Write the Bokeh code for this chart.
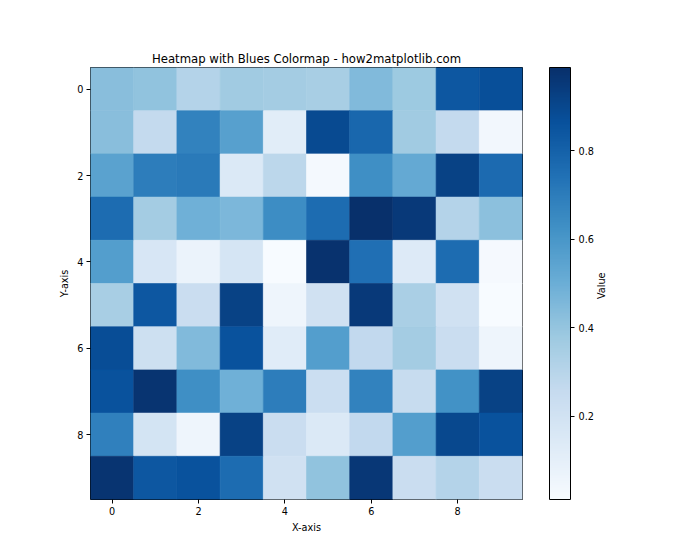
import numpy as np
from bokeh.plotting import figure
from bokeh.layouts import row
from bokeh.models import (ColumnDataSource, LinearColorMapper, ColorBar, FixedTicker,
                          Range1d, Label)
from bokeh.transform import transform
from bokeh.embed import file_html
from bokeh.resources import INLINE

# ---- data ----
x_ticks = [0, 2, 4, 6, 8]
y_ticks = [0, 2, 4, 6, 8]
cbar_ticks = [0.2, 0.4, 0.6, 0.8]
values = [
    [0.43, 0.41, 0.31, 0.37, 0.36, 0.35, 0.45, 0.38, 0.84, 0.87],
    [0.43, 0.26, 0.68, 0.56, 0.12, 0.89, 0.78, 0.37, 0.26, 0.04],
    [0.55, 0.70, 0.71, 0.15, 0.29, 0.03, 0.63, 0.52, 0.92, 0.77],
    [0.76, 0.36, 0.49, 0.46, 0.64, 0.76, 0.988, 0.95, 0.31, 0.42],
    [0.57, 0.17, 0.07, 0.18, 0.012, 0.98, 0.75, 0.14, 0.76, 0.025],
    [0.35, 0.84, 0.24, 0.92, 0.06, 0.21, 0.95, 0.34, 0.21, 0.015],
    [0.88, 0.22, 0.45, 0.86, 0.125, 0.57, 0.27, 0.36, 0.24, 0.06],
    [0.86, 0.97, 0.63, 0.49, 0.70, 0.23, 0.68, 0.25, 0.62, 0.92],
    [0.69, 0.19, 0.06, 0.92, 0.24, 0.15, 0.27, 0.57, 0.90, 0.86],
    [0.97, 0.84, 0.86, 0.76, 0.21, 0.41, 0.96, 0.24, 0.31, 0.24],
]

# ---- Blues colormap (matplotlib anchors) ----
anchors = ["#f7fbff", "#deebf7", "#c6dbef", "#9ecae1", "#6baed6",
           "#4292c6", "#2171b5", "#08519c", "#08306b"]
rgb = np.array([[int(c[i:i + 2], 16) for i in (1, 3, 5)] for c in anchors], float)
pos = np.linspace(0, 1, len(anchors))
tt = np.linspace(0, 1, 256)
palette = ["#%02x%02x%02x" % tuple(int(round(np.interp(t, pos, rgb[:, k]))) for k in range(3))
           for t in tt]

arr = np.array(values)
nrows, ncols = arr.shape
xs, ys, vs = [], [], []
for r in range(nrows):
    for c in range(ncols):
        xs.append(c)
        ys.append(r)
        vs.append(values[r][c])
src = ColumnDataSource(dict(x=xs, y=ys, v=vs))
mapper = LinearColorMapper(palette=palette, low=float(arr.min()), high=float(arr.max()))

FONT = "DejaVu Sans"
p = figure(frame_width=432, frame_height=432,
           min_border_left=90, min_border_right=73, min_border_top=67, min_border_bottom=61,
           x_range=Range1d(-0.5, ncols - 0.5), y_range=Range1d(nrows - 0.5, -0.5),
           output_backend="svg", toolbar_location=None, tools="")
p.rect(x="x", y="y", width=1, height=1, source=src,
       fill_color=transform("v", mapper), line_color=transform("v", mapper), line_width=0.6)

p.title.text = "Heatmap with Blues Colormap - how2matplotlib.com"
p.title.align = "center"
p.title.text_font = FONT
p.title.text_font_size = "11.7px"
p.title.text_font_style = "normal"
p.title.text_color = "black"
p.title.standoff = 4

p.xgrid.visible = False
p.ygrid.visible = False
p.outline_line_color = "black"
p.outline_line_width = 1

for ax, ticks, lab in ((p.xaxis[0], x_ticks, "X-axis"), (p.yaxis[0], y_ticks, "Y-axis")):
    ax.ticker = FixedTicker(ticks=ticks)
    ax.axis_label = lab
    ax.axis_label_text_font = FONT
    ax.axis_label_text_font_size = "9.7px"
    ax.axis_label_text_font_style = "normal"
    ax.axis_label_text_color = "black"
    ax.major_label_text_font = FONT
    ax.major_label_text_font_size = "9.7px"
    ax.major_label_text_color = "black"
    ax.major_tick_in = 0
    ax.major_tick_out = 4
    ax.major_tick_line_color = "black"
    ax.minor_tick_line_color = None
    ax.axis_line_color = None
    ax.major_label_standoff = 3
    ax.axis_label_standoff = 4

cb = ColorBar(color_mapper=mapper, ticker=FixedTicker(ticks=cbar_ticks),
              width=21, height=432, padding=0, margin=0, location=(27, 0),
              bar_line_color="black", bar_line_width=1,
              major_tick_in=0, major_tick_out=4, major_tick_line_color="black",
              minor_tick_line_color=None, label_standoff=4,
              major_label_text_font=FONT, major_label_text_font_size="9.7px",
              major_label_text_color="black",
              background_fill_color=None, border_line_color=None)
p.add_layout(cb, "right")

# narrow companion figure holding the colorbar's rotated label
q = figure(width=105, height=560, min_border=0, x_range=Range1d(0, 105), y_range=Range1d(0, 560),
           output_backend="svg", toolbar_location=None, tools="")
q.axis.visible = False
q.grid.visible = False
q.outline_line_color = None
q.add_layout(Label(x=5, y=277, text="Value", angle=90, angle_units="deg",
                   text_align="center", text_baseline="middle",
                   text_font=FONT, text_font_size="9.7px", text_color="black"))

layout = row(p, q, spacing=0)
open("out.html", "w").write(file_html(layout, INLINE))
